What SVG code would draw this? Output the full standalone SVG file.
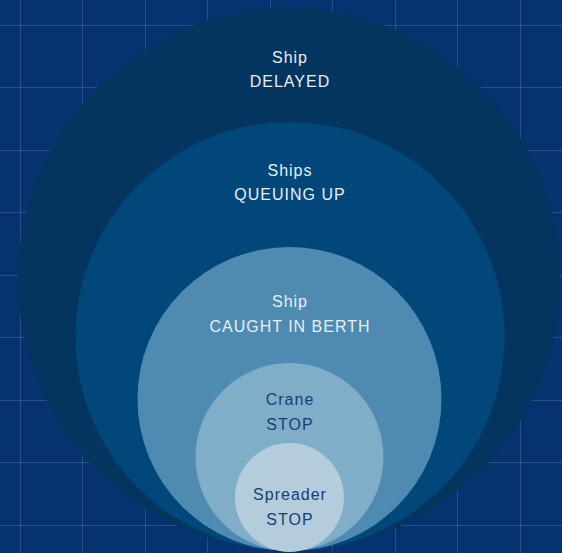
<svg xmlns="http://www.w3.org/2000/svg" width="562" height="553" viewBox="0 0 562 553">
  <style>
    .grid { stroke: #ffffff; stroke-opacity: 0.14; stroke-width: 1; fill: none; }
    .lbl { font-family: "Liberation Sans", Arial, sans-serif; font-size: 16px; letter-spacing: 1px; text-anchor: middle; }
    .light { fill: #e8eff6; }
    .dark { fill: #173f74; }
  </style>
  <rect x="0" y="0" width="562" height="553" fill="#04336f"/>
  <g id="grid">
    <path class="grid" d="M20.5 0V553M82.5 0V553M145.5 0V553M207.5 0V553M270.5 0V553M332.5 0V553M395.5 0V553M457.5 0V553M520.5 0V553"/>
    <path class="grid" d="M0 25.5H562M0 87.5H562M0 150.5H562M0 212.5H562M0 275.5H562M0 337.5H562M0 400.5H562M0 462.5H562M0 525.5H562"/>
  </g>
  <g id="ship-delayed">
    <circle cx="289" cy="279" r="271" fill="#04355f"/>
    <text class="lbl light" x="290" y="63">Ship</text>
    <text class="lbl light" x="290" y="87">DELAYED</text>
  </g>
  <g id="ships-queuing">
    <circle cx="290" cy="336.5" r="214.5" fill="#01477a"/>
    <text class="lbl light" x="290" y="176">Ships</text>
    <text class="lbl light" x="290" y="200">QUEUING UP</text>
  </g>
  <g id="ship-caught">
    <circle cx="289.5" cy="399" r="152" fill="#4f8bb0"/>
    <text class="lbl light" x="290" y="307">Ship</text>
    <text class="lbl light" x="290" y="332">CAUGHT IN BERTH</text>
  </g>
  <g id="crane-stop">
    <circle cx="289.5" cy="457" r="94" fill="#80aec8"/>
    <text class="lbl dark" x="290" y="405">Crane</text>
    <text class="lbl dark" x="290" y="430">STOP</text>
  </g>
  <g id="spreader-stop">
    <circle cx="289.5" cy="497.5" r="54.5" fill="#b3cddd"/>
    <text class="lbl dark" x="290" y="500">Spreader</text>
    <text class="lbl dark" x="290" y="525">STOP</text>
  </g>
  <g id="connectors"></g>
</svg>
